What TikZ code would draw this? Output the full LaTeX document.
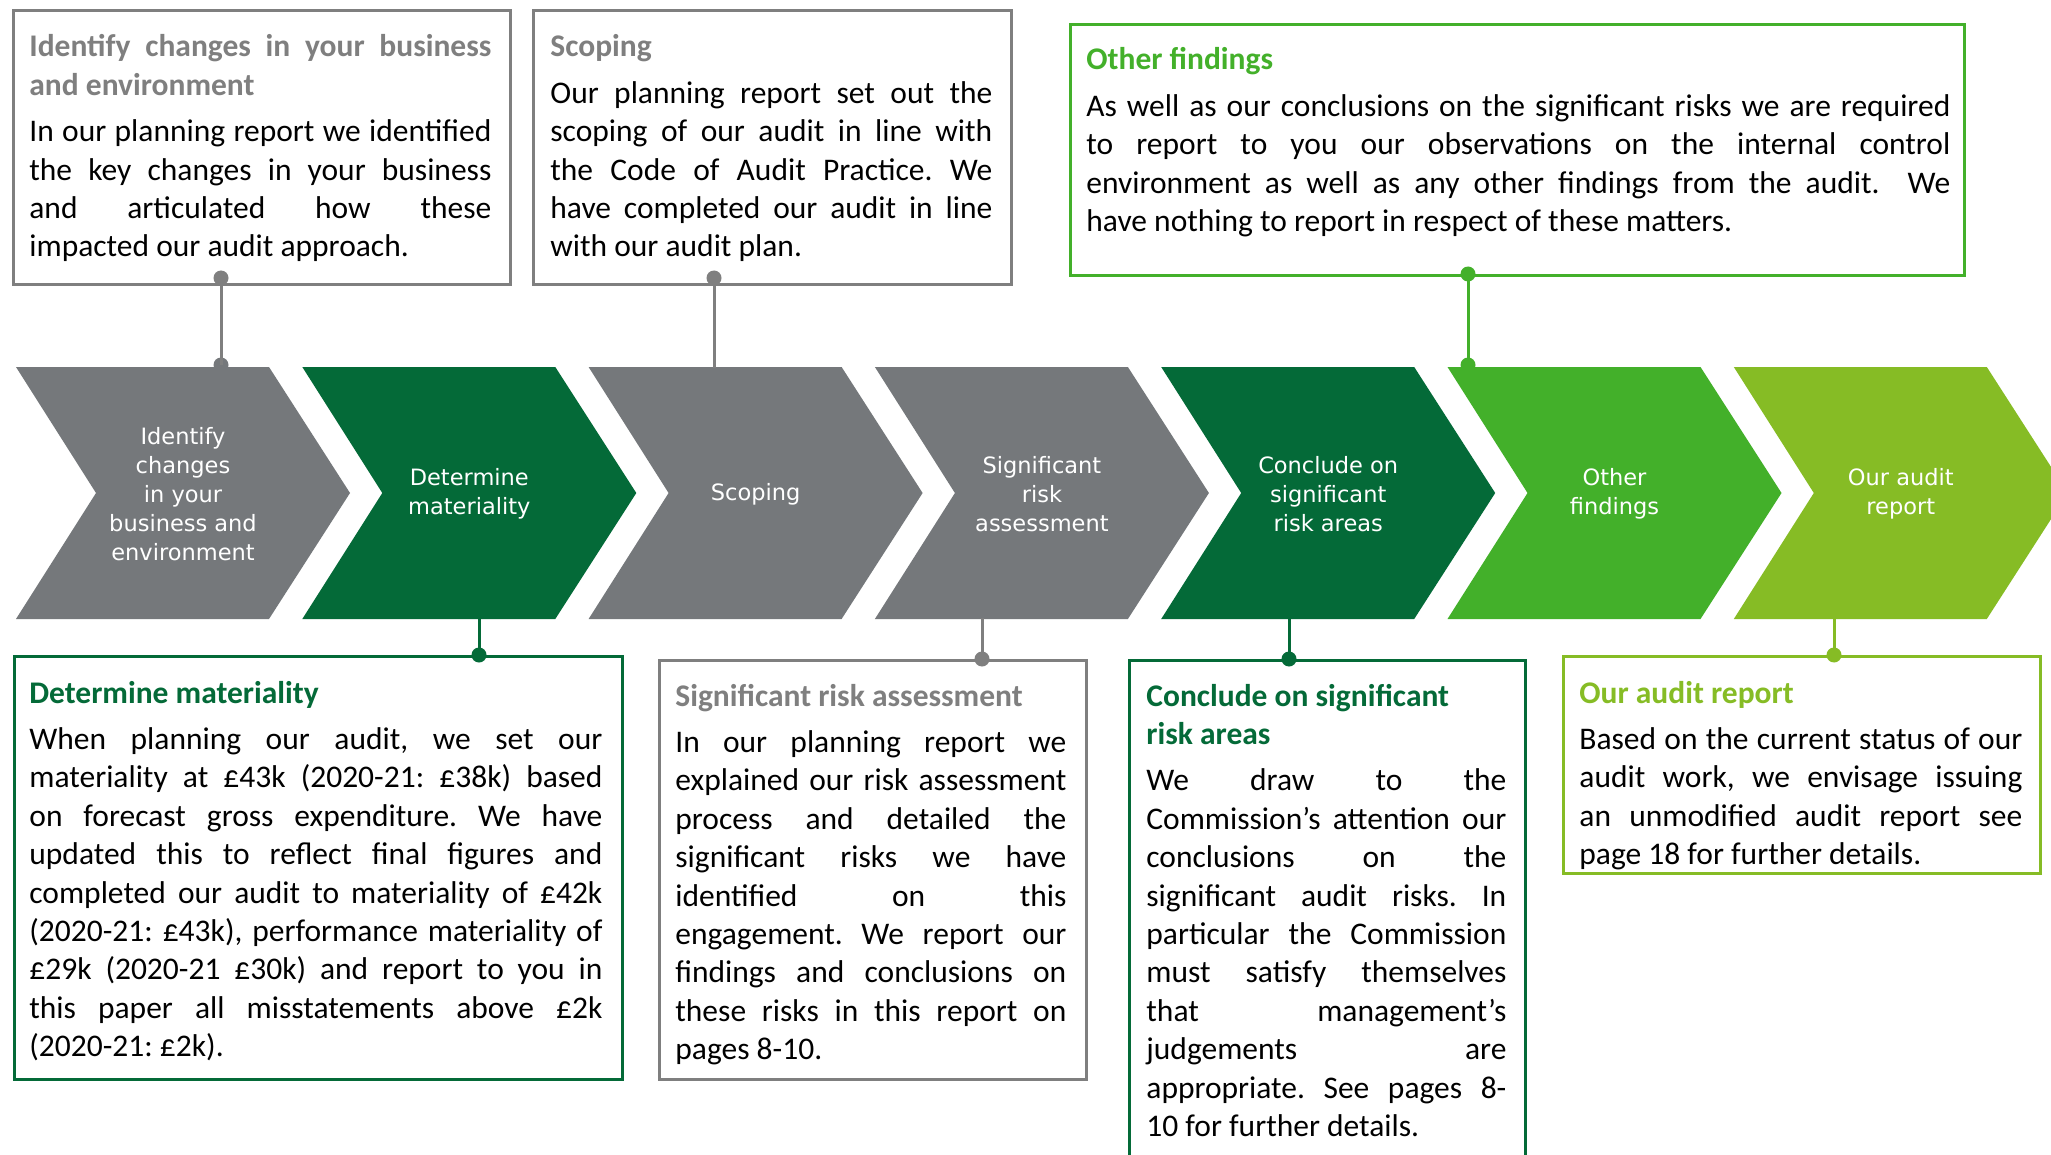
\documentclass[tikz,border=0pt]{standalone}
\usepackage{fontspec}
\setmainfont{Carlito}
\newfontfamily\chevfont{DejaVu Sans}
\frenchspacing
\definecolor{cgray}{HTML}{75787B}
\definecolor{dgreen}{HTML}{046A38}
\definecolor{mgreen}{HTML}{43B02A}
\definecolor{lgreen}{HTML}{86BC25}
\definecolor{tgray}{HTML}{7F7F7F}

% one chevron of the process band: #1 = left x, #2 = fill colour
\newcommand\chevshape[2]{%
  \fill[#2] (#1,367) -- ++(253,0) -- ++(81,126) -- ++(-81,126) -- ++(-253,0) -- ++(80,-126) -- cycle;}

\begin{document}
\begin{tikzpicture}[x=0.5pt,y=-0.5pt,
  chevtext/.style={text=white, font=\chevfont\fontsize{11.25pt}{14.5pt}\selectfont, align=center, inner sep=0pt},
  infobox/.style={draw=#1, line width=1.4pt, anchor=north west, inner sep=0pt},
  infotext/.style={anchor=base west, inner sep=0pt, align=justify,
    font=\fontsize{15.75pt}{19.2pt}\selectfont},
  link/.style={draw=#1, line width=1.5pt},
  pin/.style={fill=#1, circle, inner sep=0pt, minimum size=7.5pt},
]
\useasboundingbox (0,0) rectangle (2051,1155);
\clip (0,0) rectangle (2051,1155);
\fill[white] (0,0) rectangle (2051,1155);

% process band
\chevshape{16}{cgray}
\chevshape{302.3}{dgreen}
\chevshape{588.6}{cgray}
\chevshape{874.9}{cgray}
\chevshape{1161.2}{dgreen}
\chevshape{1447.5}{mgreen}
\chevshape{1733.8}{lgreen}

\node[chevtext] (c1) at (183,494) {Identify\\changes\\in your\\business and\\environment};
\node[chevtext] (c2) at (469.3,494) {Determine\\materiality};
\node[chevtext] (c3) at (755.6,494) {Scoping};
\node[chevtext] (c4) at (1041.9,494) {Significant\\risk\\assessment};
\node[chevtext] (c5) at (1328.2,494) {Conclude on\\significant\\risk areas};
\node[chevtext] (c6) at (1614.5,494) {Other\\findings};
\node[chevtext] (c7) at (1900.8,494) {Our audit\\report};

% boxes above the band
\node[infobox=tgray, minimum width=248.5pt, minimum height=137pt] (b1) at (12,9) {};
\node[infobox=tgray, minimum width=239pt, minimum height=137pt] (b2) at (532,9) {};
\node[infobox=mgreen, minimum width=447pt, minimum height=125.5pt] (b3) at (1069,23) {};

% boxes below the band
\node[infobox=dgreen, minimum width=304pt, minimum height=211.5pt] (b4) at (13,655) {};
\node[infobox=tgray, minimum width=213.5pt, minimum height=209.5pt] (b5) at (658,659) {};
\node[infobox=dgreen, minimum width=198pt, minimum height=290pt] (b6) at (1128,659) {};
\node[infobox=lgreen, minimum width=238.5pt, minimum height=108.5pt] (b7) at (1562,655) {};

% box texts
\node[infotext, text width=231pt] (t1) at (29,57) {%
  {\bfseries\color{tgray}Identify changes in your business\linebreak and environment}\par\vskip4pt
  In our planning report we identified\linebreak the key changes in your business\linebreak
  and articulated how these\linebreak impacted our audit approach.};
\node[infotext, text width=221pt] (t2) at (550,57) {%
  {\bfseries\color{tgray}Scoping}\par\vskip4pt
  Our planning report set out the\linebreak scoping of our audit in line with\linebreak
  the Code of Audit Practice. We\linebreak have completed our audit in line\linebreak
  with our audit plan.};
\node[infotext, text width=432pt] (t3) at (1086,70) {%
  {\bfseries\color{mgreen}Other findings}\par\vskip4pt
  As well as our conclusions on the significant risks we are required\linebreak
  to report to you our observations on the internal control\linebreak
  environment as well as any other findings from the audit.\ \ We\linebreak
  have nothing to report in respect of these matters.};
\node[infotext, text width=286.5pt] (t4) at (29,703) {%
  {\bfseries\color{dgreen}Determine materiality}\par\vskip4pt
  When planning our audit, we set our\linebreak
  materiality at £43k (2020-21: £38k) based\linebreak
  on forecast gross expenditure. We have\linebreak
  updated this to reflect final figures and\linebreak
  completed our audit to materiality of £42k\linebreak
  (2020-21: £43k), performance materiality of\linebreak
  £29k (2020-21 £30k) and report to you in\linebreak
  this paper all misstatements above £2k\linebreak
  (2020-21: £2k).};
\node[infotext, text width=195.5pt] (t5) at (675,706) {%
  {\bfseries\color{tgray}Significant risk assessment}\par\vskip4pt
  In our planning report we\linebreak
  explained our risk assessment\linebreak
  process and detailed the\linebreak
  significant risks we have\linebreak
  identified on this\linebreak
  engagement. We report our\linebreak
  findings and conclusions on\linebreak
  these risks in this report on\linebreak
  pages 8-10.};
\node[infotext, text width=180pt] (t6) at (1146,706) {%
  {\bfseries\color{dgreen}Conclude on significant\newline risk areas}\par\vskip4pt
  We draw to the\linebreak
  Commission’s attention our\linebreak
  conclusions on the\linebreak
  significant audit risks. In\linebreak
  particular the Commission\linebreak
  must satisfy themselves\linebreak
  that management’s\linebreak
  judgements are\linebreak
  appropriate. See pages 8-\linebreak
  10 for further details.};
\node[infotext, text width=221.5pt] (t7) at (1579,703) {%
  {\bfseries\color{lgreen}Our audit report}\par\vskip4pt
  Based on the current status of our\linebreak
  audit work, we envisage issuing\linebreak
  an unmodified audit report see\linebreak
  page 18 for further details.};

% connectors between boxes and band
\node[pin=tgray] (p1a) at (221,278) {};
\node[pin=cgray] (p1b) at (221,365) {};
\draw[link=tgray] (p1a.center) -- (p1b.center);

\node[pin=tgray] (p2a) at (714,278) {};
\coordinate (p2b) at (714,368);
\draw[link=tgray] (p2a.center) -- (p2b);

\node[pin=mgreen] (p3a) at (1468,274) {};
\node[pin=mgreen] (p3b) at (1468,365) {};
\draw[link=mgreen] (p3a.center) -- (p3b.center);

\coordinate (p4b) at (479,618);
\node[pin=dgreen] (p4a) at (479,655) {};
\draw[link=dgreen] (p4b) -- (p4a.center);

\coordinate (p5b) at (982,618);
\node[pin=tgray] (p5a) at (982,659) {};
\draw[link=tgray] (p5b) -- (p5a.center);

\coordinate (p6b) at (1289,618);
\node[pin=dgreen] (p6a) at (1289,659) {};
\draw[link=dgreen] (p6b) -- (p6a.center);

\coordinate (p7b) at (1834,618);
\node[pin=lgreen] (p7a) at (1834,655) {};
\draw[link=lgreen] (p7b) -- (p7a.center);
\end{tikzpicture}
\end{document}
